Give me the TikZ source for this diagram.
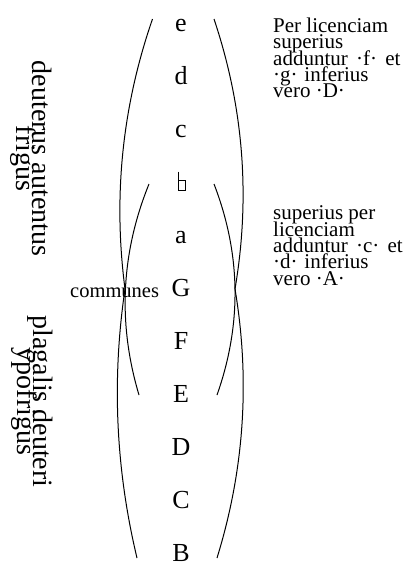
\documentclass[tikz,border=0pt]{standalone}
\usepackage{fontspec}
\setmainfont{Liberation Serif}
\lineskiplimit=-1000pt
\begin{document}
\lineskiplimit=-1000pt
\begin{tikzpicture}[x=1pt,y=-1pt,
  note/.style={anchor=base,inner sep=0pt,font=\fontsize{26}{26}\selectfont},
  side/.style={rotate=-90,align=center,inner sep=0pt,font=\fontsize{28}{16.5}\selectfont},
  gloss/.style={anchor=north west,align=left,inner sep=0pt,font=\fontsize{21}{16.3}\selectfont},
  arcline/.style={line width=1pt},
  glyph/.style={line width=0.8pt}]
\useasboundingbox (0,0) rectangle (416,566);
% note letters
\node[note] (e) at (181,31) {e};
\node[note] (d) at (181,84.1) {d};
\node[note] (c) at (181,137.2) {c};
\coordinate (h) at (181.5,190.7);
\draw[glyph] ([xshift=-3.6pt,yshift=19pt]h) -- ([xshift=-3.6pt]h) -- ([xshift=3.5pt]h) -- ([xshift=3.5pt,yshift=10.7pt]h) -- ([xshift=-3.6pt,yshift=10.7pt]h);
\node[note] (a) at (181,243.4) {a};
\node[note] (G) at (181,296.5) {G};
\node[note] (F) at (181,349.6) {F};
\node[note] (E) at (181,402.7) {E};
\node[note] (D) at (181,455.8) {D};
\node[note] (C) at (181,508.9) {C};
\node[note] (B) at (181,561.5) {B};
% labels
\node[anchor=base west,inner sep=0pt,font=\fontsize{20.5}{20.5}\selectfont] (comm) at (70,297) {communes};
\node[side] (auth) at (31.3,158.5) {deuterus autentus\\frigus};
\node[side] (plag) at (32.3,401.5) {plagalis deuteri\\ypofrigus};
\node[gloss] (g1) at (273,17.7) {Per licenciam\\superius\\adduntur \hspace{3pt}·f·\hspace{3pt} et\\·g·\hspace{1.5pt} inferius\\vero ·D·};
\node[gloss] (g2) at (273,205.7) {superius per\\licenciam\\adduntur \hspace{3pt}·c·\hspace{3pt} et\\·d·\hspace{1.5pt} inferius\\vero ·A·};
% arcs
\coordinate (Ltop) at (152.5,19);
\coordinate (Ljoin) at (125,289);
\coordinate (Lbot) at (137,558);
\coordinate (Lin1) at (149,184);
\coordinate (Lin2) at (139,395);
\coordinate (Rtop) at (214,19);
\coordinate (Rjoin) at (235,289);
\coordinate (Rbot) at (217,558);
\coordinate (Rin1) at (214,184);
\coordinate (Rin2) at (217,395);
\draw[arcline] (Ltop) .. controls (122.1,106.8) and (113,196.8) .. (Ljoin);
\draw[arcline] (Ljoin) .. controls (111.7,379.5) and (115.7,469) .. (Lbot);
\draw[arcline] (Lin1) .. controls (121,253.1) and (117.6,323.5) .. (Lin2);
\draw[arcline] (Rtop) .. controls (243.6,107.2) and (250.6,197.2) .. (Rjoin);
\draw[arcline] (Rjoin) .. controls (250.3,380.1) and (244.3,469.7) .. (Rbot);
\draw[arcline] (Rin1) .. controls (241,253.9) and (242,324.3) .. (Rin2);
\end{tikzpicture}
\end{document}
